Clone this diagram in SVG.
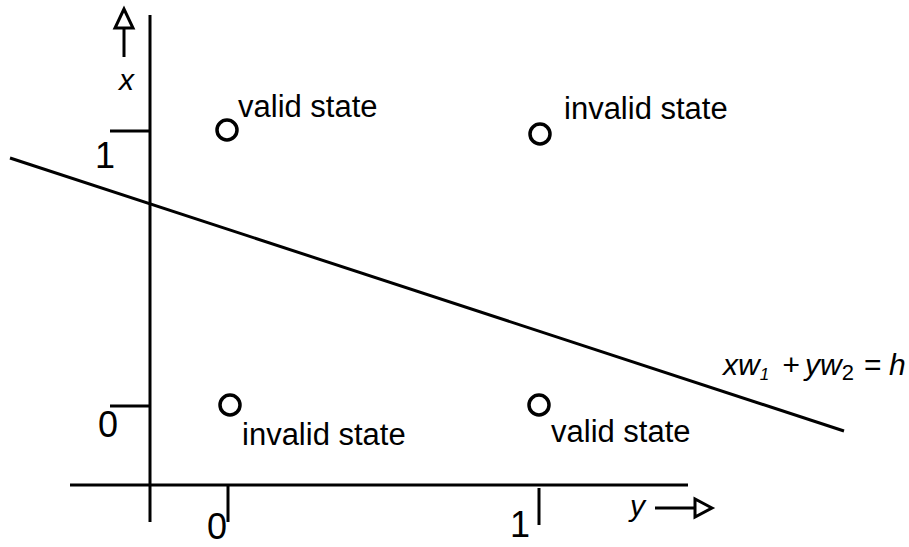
<svg xmlns="http://www.w3.org/2000/svg" width="909" height="547" viewBox="0 0 909 547">
<style>
.ln{stroke:#000;stroke-width:3;fill:none}
.hd{stroke:#000;stroke-width:3;fill:#fff;stroke-linejoin:miter}
.pt{stroke:#000;stroke-width:3.5;fill:#fff}
text{font-family:"Liberation Sans",Arial,sans-serif;fill:#000}
.lbl{font-size:31px}
.num{font-size:36px}
.it{font-style:italic;font-size:30px}
</style>
<rect width="909" height="547" fill="#fff"/>
<g id="axes">
<line class="ln" x1="150" y1="15" x2="150" y2="522"/>
<line class="ln" x1="70" y1="485" x2="688" y2="485"/>
<line class="ln" x1="110" y1="131" x2="150" y2="131"/>
<line class="ln" x1="110" y1="406" x2="150" y2="406"/>
<line class="ln" x1="228" y1="485" x2="228" y2="522"/>
<line class="ln" x1="539" y1="488" x2="539" y2="525"/>
<text class="num" x="95" y="168">1</text>
<text class="num" x="98" y="437">0</text>
<text class="num" x="207" y="539">0</text>
<text class="num" x="510" y="537">1</text>
</g>
<g id="x-arrow">
<line class="ln" x1="124" y1="57" x2="124" y2="28"/>
<polygon class="hd" points="124,9 115,28 133,28"/>
<text class="it" x="119" y="90">x</text>
</g>
<g id="y-arrow">
<line class="ln" x1="655" y1="508" x2="695" y2="508"/>
<polygon class="hd" points="712,508 695,499 695,517"/>
<text class="it" x="630" y="516">y</text>
</g>
<g id="connectors">
<line class="ln" x1="10" y1="158" x2="844" y2="431"/>
</g>
<g id="state-00">
<circle class="pt" cx="230" cy="405" r="10"/>
<text class="lbl" x="242" y="445">invalid state</text>
</g>
<g id="state-01">
<circle class="pt" cx="539" cy="405" r="10"/>
<text class="lbl" x="551" y="442">valid state</text>
</g>
<g id="state-10">
<circle class="pt" cx="227" cy="130" r="10"/>
<text class="lbl" x="238" y="117">valid state</text>
</g>
<g id="state-11">
<circle class="pt" cx="540" cy="134" r="10"/>
<text class="lbl" x="564" y="119">invalid state</text>
</g>
<g id="equation">
<text class="it" x="723" y="375">xw<tspan font-size="17" dy="5">1</tspan><tspan dy="-5" x="782">+</tspan><tspan x="805">yw</tspan><tspan font-size="22" font-style="normal" dy="5">2</tspan><tspan font-style="normal" dy="-5" x="864">=</tspan><tspan x="889">h</tspan></text>
</g>
</svg>
